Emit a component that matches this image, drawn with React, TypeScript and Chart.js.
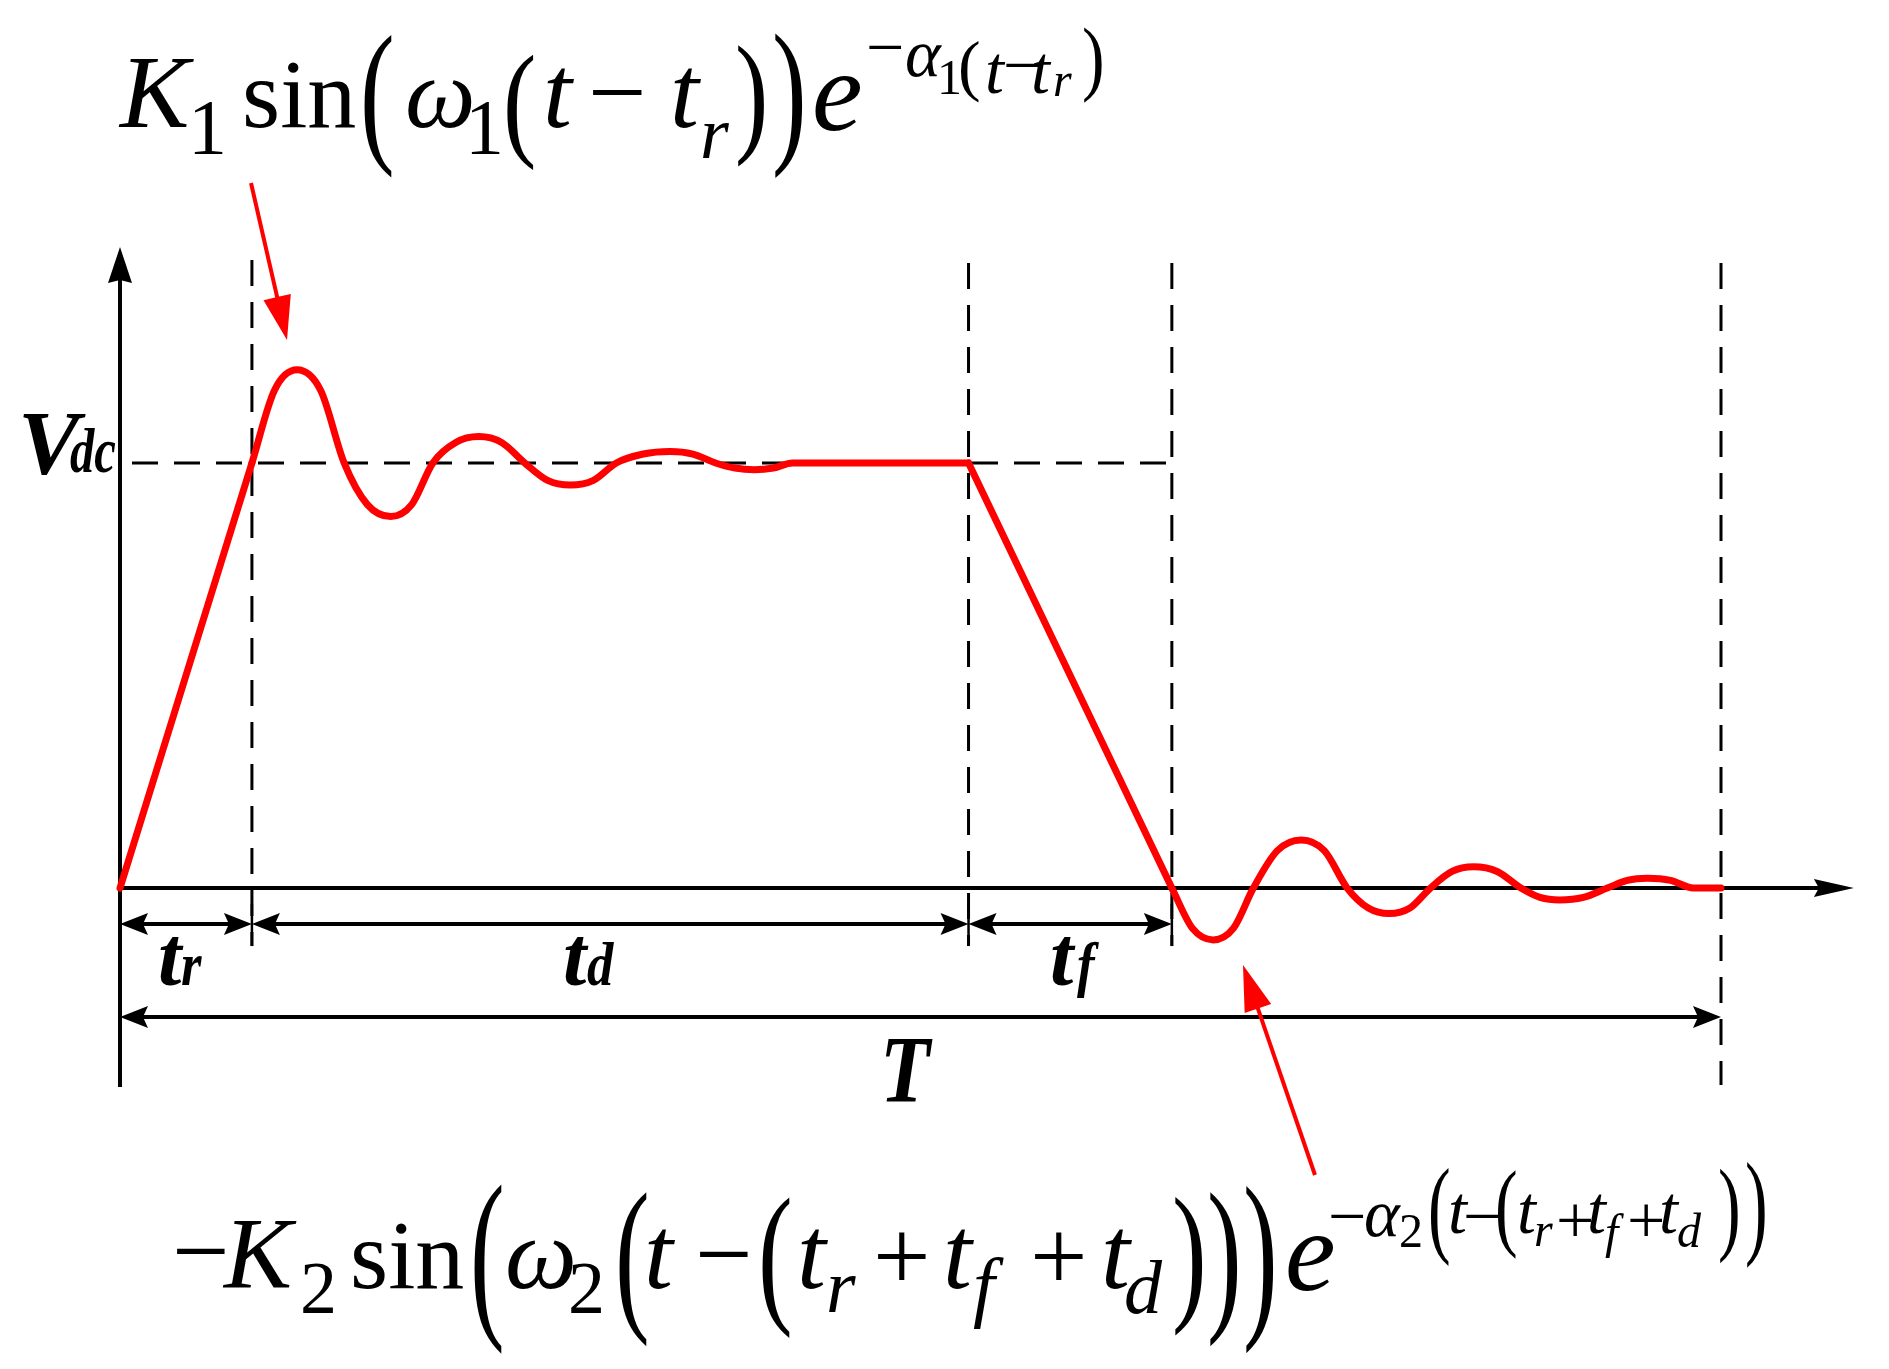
import React, { useEffect, useRef } from "react";
import { Chart, registerables } from "chart.js";
Chart.register(...registerables);

// ---------------- data (normalised: V_dc = 1, time in % of T) ----------------
const V_DC = 1.0;
const markerNames = ["t_r", "t_d", "t_f", "T"];
const markerTimes = [8.24, 53.0, 65.7, 100]; // t_r, t_r+t_d, t_r+t_d+t_f, T
const riseTime = [0, 8.24];
const riseVolt = [0, 1.0];
const ringUpTime = [
  8.24, 9.65, 11.06, 12.53, 14.0, 15.45, 16.91, 18.22, 19.54, 20.97, 22.41, 23.84, 25.28, 26.71, 28.14, 29.57,
  31.0, 32.68, 34.36, 35.78, 37.2, 38.41, 39.62, 40.81, 42.0, 53.0,
];
const ringUpVolt = [
  1.0, 1.171, 1.219, 1.171, 1.0, 0.902, 0.874, 0.902, 1.0, 1.048, 1.062, 1.048, 1.0, 0.959, 0.948, 0.959,
  1.0, 1.021, 1.027, 1.021, 1.0, 0.988, 0.984, 0.988, 1.0, 1.0,
];
const fallTime = [53.0, 65.7];
const fallVolt = [1.0, 0];
const ringDownTime = [
  65.7, 66.99, 68.28, 69.54, 70.79, 72.29, 73.78, 75.22, 76.65, 77.97, 79.28, 80.57, 81.85, 83.2, 84.54, 86.02,
  87.5, 88.7, 89.91, 91.4, 92.9, 94.15, 95.41, 96.85, 98.28, 100,
];
const ringDownVolt = [
  0, -0.095, -0.122, -0.095, 0, 0.088, 0.113, 0.088, 0, -0.047, -0.06, -0.047, 0, 0.039, 0.05, 0.039,
  0, -0.022, -0.028, -0.022, 0, 0.018, 0.023, 0.018, 0, 0,
];

const X_MIN = 0;
const X_MAX = 100;
const X_ARROW = 108.3;
const Y_MIN = -0.468;
const Y_MAX = 1.508;

// ---------------- layout / style ----------------
const W = 1889;
const H = 1369;
const RED = "#ff0000";
const SERIF = '"Liberation Serif", "Times New Roman", serif';

type Glyph = {
  t?: string;
  p?: string;
  x: number;
  y?: number;
  top?: number;
  bot?: number;
  s: number;
  st?: string;
  sx?: number;
};

function fontOf(s: number, st?: string) {
  const it = st && st.includes("i") ? "italic " : "";
  const bd = st && st.includes("b") ? "bold " : "";
  return `${it}${bd}${s}px ${SERIF}`;
}

function drawGlyphs(ctx: CanvasRenderingContext2D, list: Glyph[]) {
  ctx.save();
  ctx.fillStyle = "#000";
  ctx.textBaseline = "alphabetic";
  ctx.textAlign = "left";
  for (const g of list) {
    if (g.p) {
      const h = 0.871 * g.s;
      const sy = ((g.bot as number) - (g.top as number)) / h;
      ctx.save();
      ctx.translate(g.x, g.top as number);
      ctx.scale(1, sy);
      ctx.font = fontOf(g.s);
      ctx.fillText(g.p, 0, 0.694 * g.s);
      ctx.restore();
    } else if (g.t) {
      ctx.save();
      ctx.translate(g.x, g.y as number);
      if (g.sx) ctx.scale(g.sx, 1);
      ctx.font = fontOf(g.s, g.st);
      ctx.fillText(g.t, 0, 0);
      ctx.restore();
    }
  }
  ctx.restore();
}

const topFormula: Glyph[] = [
  { t: "K", x: 120, y: 127, s: 104, st: "i" },
  { t: "1", x: 188, y: 153, s: 78 },
  { t: "sin", x: 242, y: 127, s: 98 },
  { p: "(", x: 360, top: 35, bot: 172, s: 104 },
  { t: "ω", x: 405, y: 127, s: 100, st: "i" },
  { t: "1", x: 465, y: 153, s: 78 },
  { p: "(", x: 503, top: 55, bot: 165, s: 100 },
  { t: "t", x: 543, y: 127, s: 104, st: "i" },
  { t: "−", x: 588, y: 127, s: 104 },
  { t: "t", x: 670, y: 127, s: 104, st: "i" },
  { t: "r", x: 700, y: 158, s: 74, st: "i" },
  { p: ")", x: 735, top: 45, bot: 162, s: 100 },
  { p: ")", x: 772, top: 33, bot: 172, s: 104 },
  { t: "e", x: 812, y: 130, s: 114, st: "i" },
  { t: "−", x: 866, y: 70, s: 68 },
  { t: "α", x: 905, y: 76, s: 68, st: "i" },
  { t: "1", x: 937, y: 94, s: 50 },
  { p: "(", x: 958, top: 42, bot: 100, s: 68 },
  { t: "t", x: 985, y: 93, s: 68, st: "i" },
  { t: "−", x: 1003, y: 88, s: 68 },
  { t: "t", x: 1031, y: 93, s: 68, st: "i" },
  { t: "r", x: 1053, y: 96, s: 48, st: "i" },
  { p: ")", x: 1082, top: 28, bot: 100, s: 68 },
];

const bottomFormula: Glyph[] = [
  { t: "−", x: 172, y: 1285, s: 102 },
  { t: "K", x: 224, y: 1288, s: 102, st: "i" },
  { t: "2", x: 300, y: 1313, s: 74 },
  { t: "sin", x: 350, y: 1288, s: 98 },
  { p: "(", x: 470, top: 1185, bot: 1347, s: 104 },
  { t: "ω", x: 505, y: 1288, s: 102, st: "i" },
  { t: "2", x: 568, y: 1313, s: 74 },
  { p: "(", x: 615, top: 1193, bot: 1340, s: 104 },
  { t: "t", x: 644, y: 1288, s: 104, st: "i" },
  { t: "−", x: 695, y: 1288, s: 102 },
  { p: "(", x: 758, top: 1198, bot: 1332, s: 104 },
  { t: "t", x: 797, y: 1288, s: 104, st: "i" },
  { t: "r", x: 826, y: 1312, s: 76, st: "i" },
  { t: "+", x: 873, y: 1290, s: 102 },
  { t: "t", x: 943, y: 1288, s: 104, st: "i" },
  { t: "f", x: 973, y: 1312, s: 78, st: "i" },
  { t: "+", x: 1030, y: 1290, s: 102 },
  { t: "t", x: 1101, y: 1288, s: 104, st: "i" },
  { t: "d", x: 1124, y: 1313, s: 76, st: "i" },
  { p: ")", x: 1172, top: 1198, bot: 1330, s: 104 },
  { p: ")", x: 1207, top: 1193, bot: 1340, s: 104 },
  { p: ")", x: 1243, top: 1187, bot: 1347, s: 104 },
  { t: "e", x: 1285, y: 1290, s: 114, st: "i" },
  { t: "−", x: 1328, y: 1239, s: 68 },
  { t: "α", x: 1364, y: 1236, s: 68, st: "i" },
  { t: "2", x: 1399, y: 1247, s: 48 },
  { p: "(", x: 1428, top: 1168, bot: 1262, s: 68 },
  { t: "t", x: 1448, y: 1233, s: 68, st: "i" },
  { t: "−", x: 1463, y: 1239, s: 68 },
  { p: "(", x: 1495, top: 1171, bot: 1255, s: 68 },
  { t: "t", x: 1517, y: 1233, s: 68, st: "i" },
  { t: "r", x: 1534, y: 1246, s: 48, st: "i" },
  { t: "+", x: 1556, y: 1243, s: 68 },
  { t: "t", x: 1587, y: 1233, s: 68, st: "i" },
  { t: "f", x: 1605, y: 1248, s: 48, st: "i" },
  { t: "+", x: 1627, y: 1243, s: 68 },
  { t: "t", x: 1659, y: 1233, s: 68, st: "i" },
  { t: "d", x: 1677, y: 1247, s: 48, st: "i" },
  { p: ")", x: 1718, top: 1168, bot: 1259, s: 68 },
  { p: ")", x: 1745, top: 1163, bot: 1264, s: 68 },
];

const axisLabels: Glyph[] = [
  { t: "V", x: 18, y: 474, s: 92, st: "bi" },
  { t: "dc", x: 70, y: 472, s: 64, st: "bi", sx: 0.76 },
  { t: "t", x: 158, y: 985, s: 84, st: "bi" },
  { t: "r", x: 181, y: 985, s: 62, st: "bi", sx: 0.85 },
  { t: "t", x: 563, y: 985, s: 84, st: "bi" },
  { t: "d", x: 587, y: 985, s: 62, st: "bi", sx: 0.85 },
  { t: "t", x: 1050, y: 985, s: 84, st: "bi" },
  { t: "f", x: 1077, y: 985, s: 62, st: "bi", sx: 0.85 },
  { t: "T", x: 880, y: 1102, s: 96, st: "bi", sx: 0.85 },
];

function arrowHead(
  ctx: CanvasRenderingContext2D,
  tipX: number,
  tipY: number,
  dx: number,
  dy: number,
  len: number,
  half: number,
  notch: number
) {
  const n = Math.hypot(dx, dy);
  const ux = dx / n;
  const uy = dy / n;
  const bx = tipX - ux * len;
  const by = tipY - uy * len;
  const px = -uy;
  const py = ux;
  ctx.beginPath();
  ctx.moveTo(tipX, tipY);
  ctx.lineTo(bx + px * half, by + py * half);
  ctx.lineTo(tipX - ux * (len - notch), tipY - uy * (len - notch));
  ctx.lineTo(bx - px * half, by - py * half);
  ctx.closePath();
  ctx.fill();
}

function line(ctx: CanvasRenderingContext2D, x1: number, y1: number, x2: number, y2: number) {
  ctx.beginPath();
  ctx.moveTo(x1, y1);
  ctx.lineTo(x2, y2);
  ctx.stroke();
}

const backgroundPlugin = {
  id: "diagramBack",
  beforeDatasetsDraw(chart: any) {
    const ctx: CanvasRenderingContext2D = chart.ctx;
    const X = (v: number) => chart.scales.x.getPixelForValue(v);
    const Y = (v: number) => chart.scales.y.getPixelForValue(v);
    const x0 = X(0);
    const y0 = Y(0);
    const yV = Y(V_DC);
    const row1 = y0 + 36;
    const row2 = y0 + 129;
    ctx.save();
    ctx.strokeStyle = "#000";
    ctx.fillStyle = "#000";

    // dashed guides
    ctx.lineWidth = 3;
    ctx.setLineDash([26, 16]);
    line(ctx, x0 + 12, yV, X(markerTimes[2]), yV);
    markerTimes.forEach((t, i) => {
      const bottom = i === markerTimes.length - 1 ? row2 + 68 : row1 + 22;
      const top = i === 0 ? 260 : 263;
      line(ctx, X(t), top, X(t), bottom);
    });
    ctx.setLineDash([]);

    // short solid ticks at the dimension row
    ctx.lineWidth = 2.5;
    for (let i = 0; i < 3; i++) line(ctx, X(markerTimes[i]), row1 - 20, X(markerTimes[i]), row1 + 22);

    // axes
    ctx.lineWidth = 4;
    line(ctx, x0, Y(Y_MIN), x0, Y(Y_MAX) + 20);
    arrowHead(ctx, x0, Y(Y_MAX), 0, -1, 36, 12, 3);
    line(ctx, x0, y0, X(X_ARROW) - 20, y0);
    arrowHead(ctx, X(X_ARROW), y0, 1, 0, 40, 9, 5);

    // dimension arrows
    const bounds = [0, ...markerTimes.slice(0, 3)];
    ctx.lineWidth = 4;
    for (let i = 0; i < 3; i++) {
      const a = X(bounds[i]);
      const b = X(bounds[i + 1]);
      line(ctx, a + 12, row1, b - 12, row1);
      arrowHead(ctx, a, row1, -1, 0, 28, 11, 5);
      arrowHead(ctx, b, row1, 1, 0, 28, 11, 5);
    }
    const tEnd = X(markerTimes[3]);
    line(ctx, x0 + 12, row2, tEnd - 12, row2);
    arrowHead(ctx, x0, row2, -1, 0, 28, 11, 5);
    arrowHead(ctx, tEnd, row2, 1, 0, 28, 11, 5);
    ctx.restore();
  },
  afterDraw(chart: any) {
    const ctx: CanvasRenderingContext2D = chart.ctx;
    // red annotation arrows
    ctx.save();
    ctx.strokeStyle = RED;
    ctx.fillStyle = RED;
    ctx.lineWidth = 4;
    line(ctx, 251, 183, 251 + (287 - 251) * 0.8, 183 + (340 - 183) * 0.8);
    arrowHead(ctx, 287, 340, 287 - 251, 340 - 183, 44, 14, 0);
    line(ctx, 1315, 1175, 1315 + (1243 - 1315) * 0.82, 1175 + (965 - 1175) * 0.82);
    arrowHead(ctx, 1243, 965, 1243 - 1315, 965 - 1175, 46, 14, 0);
    ctx.restore();

    drawGlyphs(ctx, topFormula);
    drawGlyphs(ctx, bottomFormula);
    drawGlyphs(ctx, axisLabels);
  },
};

function toPoints(ts: number[], vs: number[]) {
  return ts.map((t, i) => ({ x: t, y: vs[i] }));
}

function seg(ts: number[], vs: number[], smooth: boolean) {
  return {
    data: toPoints(ts, vs),
    borderColor: RED,
    backgroundColor: RED,
    borderWidth: 7,
    pointRadius: 0,
    tension: smooth ? 0.4 : 0,
    cubicInterpolationMode: smooth ? "monotone" : "default",
    borderCapStyle: "round",
    borderJoinStyle: "round",
    clip: false,
    fill: false,
  };
}

export default function App() {
  const ref = useRef<HTMLCanvasElement>(null);
  useEffect(() => {
    const canvas = ref.current;
    if (!canvas) return;
    const chart = new Chart(canvas, {
      type: "line",
      data: {
        datasets: [
          seg(riseTime, riseVolt, false),
          seg(ringUpTime, ringUpVolt, true),
          seg(fallTime, fallVolt, false),
          seg(ringDownTime, ringDownVolt, true),
        ] as any,
      },
      options: {
        responsive: false,
        maintainAspectRatio: false,
        devicePixelRatio: 1,
        animation: false,
        events: [],
        layout: { padding: { left: 120, right: W - 1721, top: 247, bottom: H - 1087 } },
        plugins: { legend: { display: false }, tooltip: { enabled: false }, title: { display: false } },
        scales: {
          x: { type: "linear", min: X_MIN, max: X_MAX, display: false },
          y: { type: "linear", min: Y_MIN, max: Y_MAX, display: false },
        },
      } as any,
      plugins: [backgroundPlugin],
    });
    return () => chart.destroy();
  }, []);
  return (
    <div style={{ position: "fixed", left: 0, top: 0, width: W, height: H, background: "#fff" }}>
      <canvas ref={ref} width={W} height={H} style={{ display: "block", width: W, height: H }} aria-label={markerNames.join(", ")} />
    </div>
  );
}
